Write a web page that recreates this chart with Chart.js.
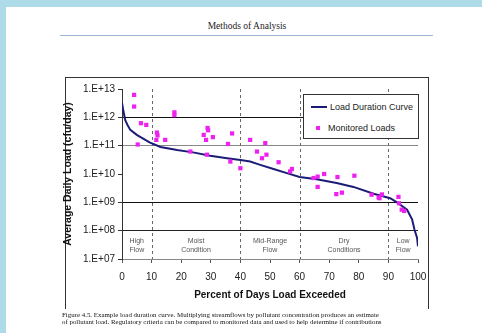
<!DOCTYPE html>
<html>
<head>
<meta charset="utf-8">
<script src="https://cdn.jsdelivr.net/npm/chart.js@4.4.1/dist/chart.umd.min.js"></script>
<style>
  html, body { margin: 0; padding: 0; }
  body {
    width: 482px; height: 333px; position: relative; overflow: hidden;
    background: #aedbe8;
    font-family: Arial, "Liberation Sans", sans-serif;
  }
  .page { position: absolute; left: 6px; top: 7px; right: 0; bottom: 0; background: #fff; }
  .header {
    position: absolute; left: 0; top: 20px; width: 494px; text-align: center;
    font: 9.5px "Liberation Serif", "Times New Roman", serif; color: #222; line-height: 13px;
  }
  .rule { position: absolute; left: 60px; top: 35px; width: 373px; height: 1px; background: #9fb6d6; }
  .box {
    position: absolute; left: 65px; top: 77px; width: 362px; height: 231px;
    border: 1px solid #333; border-bottom: none;
  }
  #chart { position: absolute; left: 0; top: 0; }
  .legend {
    position: absolute; left: 303px; top: 94px; width: 116px; height: 45px;
    box-sizing: border-box; border: 1px solid #333; background: #fff;
    font-size: 9px; color: #222;
  }
  .legend .txt { position: absolute; line-height: 12px; white-space: nowrap; }
  .legend .ln { position: absolute; left: 7px; top: 11px; width: 16px; height: 2px; background: #1c1c78; }
  .legend .sq { position: absolute; left: 12px; top: 31px; width: 4px; height: 4px; background: #ee22ee; }
  .caption {
    position: absolute; left: 62px; top: 311px; line-height: 10px; white-space: nowrap;
    font: 6.9px "Liberation Serif", "Times New Roman", serif; color: #111;
  }
</style>
</head>
<body>
<div class="page"></div>
<div class="header">Methods of Analysis</div>
<div class="rule"></div>
<div class="box"></div>
<canvas id="chart" width="482" height="333"></canvas>
<div class="legend" id="legend"></div>
<div class="caption">Figure 4.5. Example load duration curve. Multiplying streamflows by pollutant concentration produces an estimate<br>of pollutant load. Regulatory criteria can be compared to monitored data and used to help determine if contributions</div>

<script>
// series names
const seriesNames = ["Load Duration Curve", "Monitored Loads"];

// load duration curve (percent exceeded, cfu/day)
const curvePct = [0, 0.5, 1.1, 2, 2.8, 5, 7, 9.3, 13, 18.6, 24, 29.8, 35.5, 40, 43.3, 46.7, 51.2, 55.7,
  60, 65.8, 72.5, 78.2, 85, 90.6, 92.9, 96.3, 98, 98.8, 99.7, 100];
const curveLoad = [3.2e12, 1.6e12, 8e11, 5e11, 3.6e11, 2.4e11, 1.8e11, 1.3e11, 9e10, 7e10, 5.8e10, 4.4e10,
  3.6e10, 3.1e10, 2.75e10, 2.1e10, 1.5e10, 1.07e10, 7.8e9, 6.5e9, 4.8e9, 3.5e9, 2e9, 1.4e9, 1e9,
  5.5e8, 2.5e8, 1.1e8, 5.5e7, 2.8e7];

// monitored loads
const monPct = [4.1, 4.1, 5.3, 6.4, 8.2, 11.6, 11.8, 12.0, 14.6, 17.7, 17.7, 23.1, 27.6, 28.4, 28.7, 28.9,
  29.1, 30.7, 35.8, 36.6, 37.2, 40.0, 43.3, 45.6, 47.3, 48.4, 48.8, 52.9, 56.8, 57.4, 64.7, 66.1, 66.1,
  68.3, 72.4, 72.8, 74.3, 78.5, 84.3, 86.7, 87.0, 87.8, 93.4, 93.6, 94.5, 95.3];
const monLoad = [6.2e12, 2.4e12, 1.1e11, 6.2e11, 5.4e11, 1.6e11, 2.9e11, 2.3e11, 1.6e11, 1.5e12, 1.2e12,
  6.2e10, 2.4e11, 1.6e11, 4.8e10, 4.2e11, 3.5e11, 2e11, 1.15e11, 2.75e10, 2.7e11, 1.6e10, 1.6e11, 6.2e10,
  3.6e10, 1.23e11, 4.8e10, 2.6e10, 1.23e10, 1.5e10, 7.2e9, 8.1e9, 3.5e9, 1e10, 1.95e9, 7.8e9, 2.2e9,
  8.7e9, 1.86e9, 1.5e9, 1.4e9, 1.9e9, 1.55e9, 9.3e8, 5.5e8, 5e8];

// axes
const yTicks = [1e7, 1e8, 1e9, 1e10, 1e11, 1e12, 1e13];
const xTicks = [0, 10, 20, 30, 40, 50, 60, 70, 80, 90, 100];

// flow zones
const dividers = [10, 40, 60, 90];
const zoneCenters = [5, 25, 50, 75, 95];
const zoneNames = [["High", "Flow"], ["Moist", "Condition"], ["Mid-Range", "Flow"], ["Dry", "Conditions"], ["Low", "Flow"]];

// horizontal lines that are drawn (exponent -> colour)
const gridLines = { 8: "#222", 9: "#111", 11: "#888", 12: "#111" };

const zonesPlugin = {
  id: "zones",
  beforeDatasetsDraw(chart) {
    const { ctx, chartArea, scales } = chart;
    ctx.save();
    ctx.strokeStyle = "#666";
    ctx.lineWidth = 1;
    ctx.setLineDash([3, 3]);
    dividers.forEach((d) => {
      const px = Math.round(scales.x.getPixelForValue(d)) + 0.5;
      ctx.beginPath();
      ctx.moveTo(px, chartArea.top);
      ctx.lineTo(px, chartArea.bottom);
      ctx.stroke();
    });
    ctx.setLineDash([]);
    ctx.fillStyle = "#555";
    ctx.font = "7px Arial";
    ctx.textAlign = "center";
    ctx.textBaseline = "middle";
    zoneNames.forEach((lines, i) => {
      const px = scales.x.getPixelForValue(zoneCenters[i]);
      lines.forEach((t, j) => ctx.fillText(t, px, chartArea.bottom - 18 + j * 9));
    });
    ctx.restore();
  },
};

const chart = new Chart(document.getElementById("chart"), {
  type: "scatter",
  data: {
    datasets: [
      {
        label: seriesNames[0],
        type: "line",
        data: curvePct.map((p, i) => ({ x: p, y: curveLoad[i] })),
        borderColor: "#1c1c78",
        borderWidth: 2,
        pointRadius: 0,
        tension: 0,
        order: 2,
      },
      {
        label: seriesNames[1],
        data: monPct.map((p, i) => ({ x: p, y: monLoad[i] })),
        pointStyle: "rect",
        pointRadius: 3,
        backgroundColor: "#ee22ee",
        borderWidth: 0,
        order: 1,
      },
    ],
  },
  options: {
    responsive: false,
    animation: false,
    layout: { padding: { left: 58, top: 89, right: 64, bottom: 20 } },
    plugins: { legend: { display: false }, tooltip: { enabled: false } },
    scales: {
      x: {
        type: "linear",
        min: 0,
        max: 100,
        afterBuildTicks: (s) => { s.ticks = xTicks.map((v) => ({ value: v })); },
        afterFit: (s) => { s.height = 54; },
        grid: { drawOnChartArea: false, tickLength: 4, tickColor: "#555" },
        border: { color: "#888" },
        ticks: { color: "#222", font: { size: 10, family: "Arial" }, padding: 8, maxRotation: 0 },
        title: {
          display: true,
          text: "Percent of Days Load Exceeded",
          color: "#111",
          font: { size: 10, weight: "bold", family: "Arial" },
          padding: { top: 0, bottom: 12 },
        },
      },
      y: {
        type: "logarithmic",
        min: 1e7,
        max: 1e13,
        afterBuildTicks: (s) => { s.ticks = yTicks.map((v) => ({ value: v })); },
        afterFit: (s) => { s.width = 64; },
        grid: {
          tickLength: 4,
          tickColor: "#333",
          color: (c) => {
            if (!c.tick) return "transparent";
            const e = Math.round(Math.log10(c.tick.value));
            return gridLines[e] || "transparent";
          },
        },
        border: { color: "#333" },
        ticks: {
          color: "#222",
          font: { size: 10, family: "Arial" },
          padding: 3,
          callback: (v) => "1.E+" + String(Math.round(Math.log10(v))).padStart(2, "0"),
        },
        title: {
          display: true,
          text: "Average Daily Load (cfu/day)",
          color: "#111",
          font: { size: 10.5, weight: "bold", family: "Arial" },
          padding: { top: 4, bottom: 0 },
        },
      },
    },
  },
  plugins: [zonesPlugin],
});

// legend box
const legend = document.getElementById("legend");
legend.innerHTML =
  '<span class="ln"></span><span class="txt" style="left:26px;top:6px">' + seriesNames[0] + "</span>" +
  '<span class="sq"></span><span class="txt" style="left:24px;top:27px">' + seriesNames[1] + "</span>";
</script>
</body>
</html>
